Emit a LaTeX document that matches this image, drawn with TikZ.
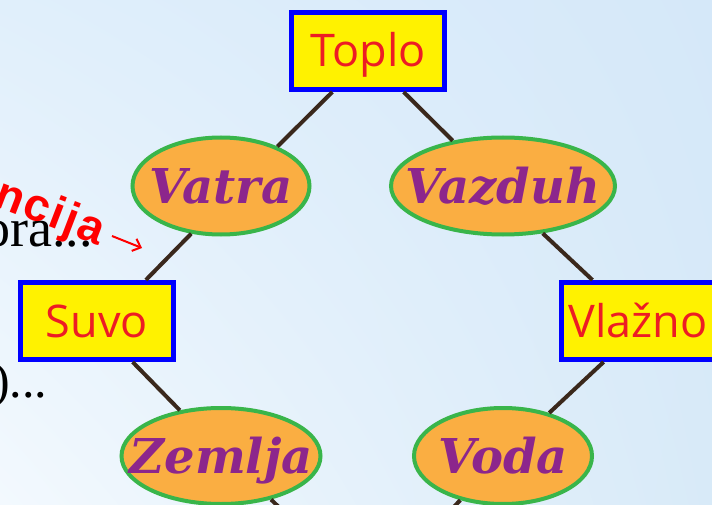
\documentclass[tikz,border=0pt]{standalone}
\usepackage{fontspec}
\newfontfamily\boxfont{Open Sans}
\newfontfamily\elemfont{DejaVu Serif}
\newfontfamily\notefont[LetterSpace=5]{Liberation Sans}
\newfontfamily\serifnotefont{Liberation Serif}
\usetikzlibrary{shapes.geometric,arrows.meta,shadings}
\definecolor{bgul}{RGB}{224,239,251}
\definecolor{bgur}{RGB}{213,232,249}
\definecolor{bgll}{RGB}{243,249,254}
\definecolor{bglr}{RGB}{216,234,248}
\definecolor{boxyellow}{RGB}{255,242,0}
\definecolor{boxred}{RGB}{237,28,36}
\definecolor{elemorange}{RGB}{250,174,66}
\definecolor{elemgreen}{RGB}{57,181,74}
\definecolor{elempurple}{RGB}{140,38,140}
\definecolor{linkbrown}{RGB}{58,40,28}
\begin{document}
\begin{tikzpicture}[x=1pt,y=-1pt,
  quality/.style={draw=blue,line width=5pt,fill=boxyellow,text=boxred,inner sep=0pt,
    minimum width=153pt,minimum height=77pt,text height=32pt,text depth=0pt,
    font=\boxfont\fontsize{45}{50}\selectfont},
  element/.style={ellipse,draw=elemgreen,line width=4pt,fill=elemorange,text=elempurple,inner sep=0pt,
    text height=35pt,text depth=0pt,font=\elemfont\bfseries\itshape\fontsize{48}{52}\selectfont},
  link/.style={draw=linkbrown,line width=4pt}]
\useasboundingbox (0,0) rectangle (712,505);
\clip (0,0) rectangle (712,505);
\shade[upper left=bgul,upper right=bgur,lower left=bgll,lower right=bglr] (0,0) rectangle (712,505);

% notes on the left
\node[anchor=base east,inner sep=0pt,font=\serifnotefont\fontsize{54}{58}\selectfont] (ora) at (93,246) {ora...};
\node[anchor=base east,inner sep=0pt,rotate=-21,text=red,font=\notefont\bfseries\fontsize{46}{48}\selectfont] (ncija) at (99,246) {ncija};
\coordinate (arrowtail) at (112,236); \coordinate (arrowtip) at (142,248);
\draw[red,line width=2pt,-{Straight Barb[length=7pt,width=13pt]}] (arrowtail) -- (arrowtip);
\node[anchor=base west,inner sep=0pt,font=\serifnotefont\fontsize{50}{54}\selectfont] (paren) at (-7,397) {)...};

% qualities and elements
\node[quality] (toplo) at (368,51) {Toplo};
\node[element,minimum width=177pt,minimum height=97pt] (vatra) at (221,186) {\makebox[0pt]{Vatra}};
\node[element,minimum width=224pt,minimum height=97pt] (vazduh) at (503,186) {\makebox[0pt]{Vazduh}};
\node[quality] (suvo) at (97,321) {Suvo};
\node[quality] (vlazno) at (638,321) {Vlažno};
\node[element,minimum width=199pt,minimum height=96pt] (zemlja) at (221,456) {\makebox[0pt]{Zemlja}};
\node[element,minimum width=178pt,minimum height=96pt] (voda) at (503,456) {\makebox[0pt]{Voda}};
\coordinate (hladno) at (368,594);

\draw[link] (toplo.229) -- (vatra.35);
\draw[link] (toplo.-49) -- (vazduh.138);
\draw[link] (vatra.238) -- (suvo.40);
\draw[link] (vazduh.-50) -- (vlazno.138);
\draw[link] (suvo.-49) -- (zemlja.132);
\draw[link] (vlazno.230) -- (voda.43);
\draw[link] (zemlja.-41) -- (hladno);
\draw[link] (voda.226) -- (hladno);
\end{tikzpicture}
\end{document}
